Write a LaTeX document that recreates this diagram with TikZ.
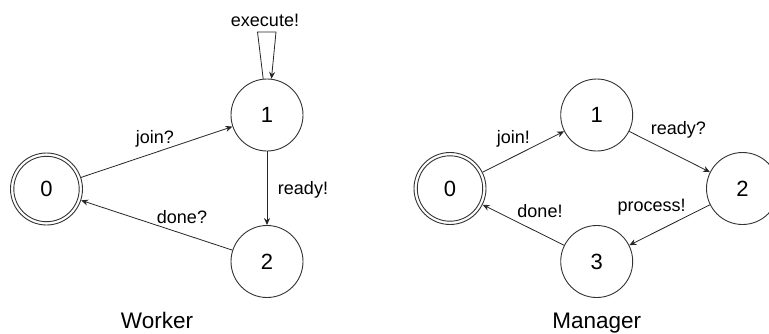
\documentclass[tikz,border=0pt]{standalone}
\usepackage{fontspec}
\setmainfont{Liberation Sans}
\usetikzlibrary{arrows.meta}
\begin{document}
\begin{tikzpicture}[x=1pt,y=-1pt,
  state/.style={circle,draw=black!80,line width=0.9pt,minimum size=72pt,inner sep=0pt,
    font=\fontsize{22}{25}\selectfont},
  edge/.style={draw=black!85,line width=0.8pt,-{Stealth[length=7pt,width=6pt]}},
  lab/.style={font=\fontsize{18}{21}\selectfont,inner sep=0pt},
  title/.style={font=\fontsize{22.5}{26}\selectfont,inner sep=0pt}]
\useasboundingbox (0,0) rectangle (769,333);
\clip (0,0) rectangle (769,333);
% Worker
\node[state] (w0) at (46.5,189) {0};
\draw[black!80,line width=0.9pt] (w0.center) circle (32.7);
\node[state] (w1) at (267,115) {1};
\node[state] (w2) at (267,261.5) {2};
\coordinate (la) at (257.5,32);
\coordinate (lb) at (276,32);
\draw[edge] (w0) -- (w1);
\draw[edge] (w1) -- (w2);
\draw[edge] (w2) -- (w0);
\draw[edge] (w1.96) -- (la) -- (lb) -- (w1.83);
\node[lab] (wl1) at (155,139) {join?};
\node[lab] (wl2) at (303,189.5) {ready!};
\node[lab] (wl3) at (182,216.7) {done?};
\node[lab] (wl4) at (265,20.5) {execute!};
\node[title] (wt) at (157,320) {Worker};
% Manager
\node[state] (m0) at (450,188.5) {0};
\draw[black!80,line width=0.9pt] (m0.center) circle (32.7);
\node[state] (m1) at (596.7,115) {1};
\node[state] (m2) at (742.5,188.5) {2};
\node[state] (m3) at (596.7,261.5) {3};
\draw[edge] (m0) -- (m1);
\draw[edge] (m1) -- (m2);
\draw[edge] (m2) -- (m3);
\draw[edge] (m3) -- (m0);
\node[lab] (ml1) at (513.3,139) {join!};
\node[lab] (ml2) at (678.3,130) {ready?};
\node[lab] (ml3) at (651.7,207.5) {process!};
\node[lab] (ml4) at (540,211) {done!};
\node[title,anchor=base] (mt) at (596.7,328.3) {Manager};
\end{tikzpicture}
\end{document}
